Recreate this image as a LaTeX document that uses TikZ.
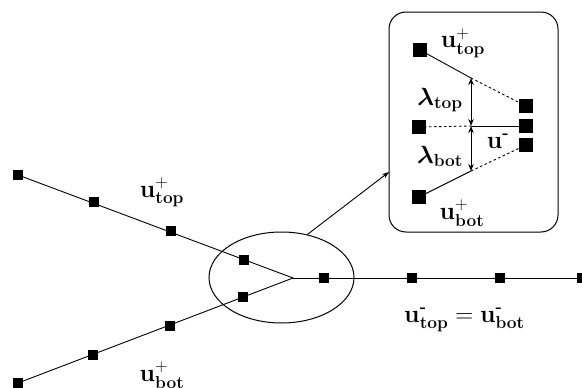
\documentclass[tikz,border=0pt]{standalone}
\usepackage{amsmath,amsbsy}
\usetikzlibrary{shapes.geometric,arrows.meta}
\newcommand{\bu}{\mathbf{u}}
\newcommand{\bs}[1]{\mathbf{#1}}
\newcommand{\mn}{\textbf{-}}
\begin{document}
\begin{tikzpicture}[x=1pt,y=-1pt,
  sq/.style={fill=black,inner sep=0pt,minimum size=10.5pt},
  bigsq/.style={fill=black,inner sep=0pt,minimum size=14pt},
  lab/.style={anchor=base,inner sep=0pt,font=\fontsize{24}{28}\selectfont},
  ln/.style={line width=0.9pt},
  dln/.style={line width=0.9pt,dash pattern=on 2.5pt off 2.5pt},
  darr/.style={line width=1pt,{Stealth[length=7pt,width=5.5pt]}-{Stealth[length=7pt,width=5.5pt]}}]
\useasboundingbox (0,0) rectangle (582,388);
% main branches
\coordinate (j) at (293,278);
\node[sq] (t1) at (18,175) {};
\node[sq] (t2) at (94,202) {};
\node[sq] (t3) at (171,231) {};
\node[sq] (t4) at (244,260) {};
\node[sq] (b1) at (18,383) {};
\node[sq] (b2) at (93,355) {};
\node[sq] (b3) at (170,326) {};
\node[sq] (b4) at (243,297) {};
\node[sq] (r1) at (324,278) {};
\node[sq] (r2) at (412,278) {};
\node[sq] (r3) at (500,278) {};
\node[sq] (r4) at (582,278) {};
\draw[ln] (t1.center) -- (j) -- (b1.center);
\draw[ln] (j) -- (r4.center);
\node[draw,ellipse,line width=1pt,minimum width=145pt,minimum height=91pt,inner sep=0pt] (zoomell) at (281.5,277.5) {};
\node[lab] (ltp) at (162,197) {$\bu_{\bs{top}}^{+}$};
\node[lab] (lbp) at (162,381) {$\bu_{\bs{bot}}^{+}$};
\node[lab] (lmm) at (464.5,322) {$\bu_{\bs{top}}^{\mn}=\bu_{\bs{bot}}^{\mn}$};
% inset box
\node[draw,rounded corners=17pt,line width=1pt,minimum width=169pt,minimum height=220pt,inner sep=0pt] (inset) at (473.5,122) {};
\coordinate (arrend) at (389,172);
\draw[line width=0.9pt,-{Stealth[length=7pt,width=5pt]}] (zoomell.59) -- (arrend);
% inset content
\node[bigsq] (it) at (420,50) {};
\node[bigsq] (im) at (419,127) {};
\node[bigsq] (ib) at (419,197) {};
\node[bigsq] (irt) at (526,106) {};
\node[bigsq] (irm) at (526,126) {};
\node[bigsq] (irb) at (526,145) {};
\coordinate (pt) at (471,78);
\coordinate (pm) at (471,126);
\coordinate (pb) at (471,171);
\draw[ln] (it.center) -- (pt);
\draw[dln] (pt) -- (irt.center);
\draw[dln] (im.center) -- (pm);
\draw[ln] (pm) -- (irm.center);
\draw[ln] (ib.center) -- (pb);
\draw[dln] (pb) -- (irb.center);
\draw[darr] (pt) -- (pm);
\draw[darr] (pm) -- (pb);
\node[lab] (iltp) at (463,48) {$\bu_{\bs{top}}^{+}$};
\node[lab] (ilbp) at (462,219) {$\bu_{\bs{bot}}^{+}$};
\node[lab] (ilt) at (440,105) {$\boldsymbol{\lambda}_{\bs{top}}$};
\node[lab] (ilb) at (440,163) {$\boldsymbol{\lambda}_{\bs{bot}}$};
\node[lab] (ilm) at (498,148) {$\bu^{\mn}$};
\end{tikzpicture}
\end{document}
